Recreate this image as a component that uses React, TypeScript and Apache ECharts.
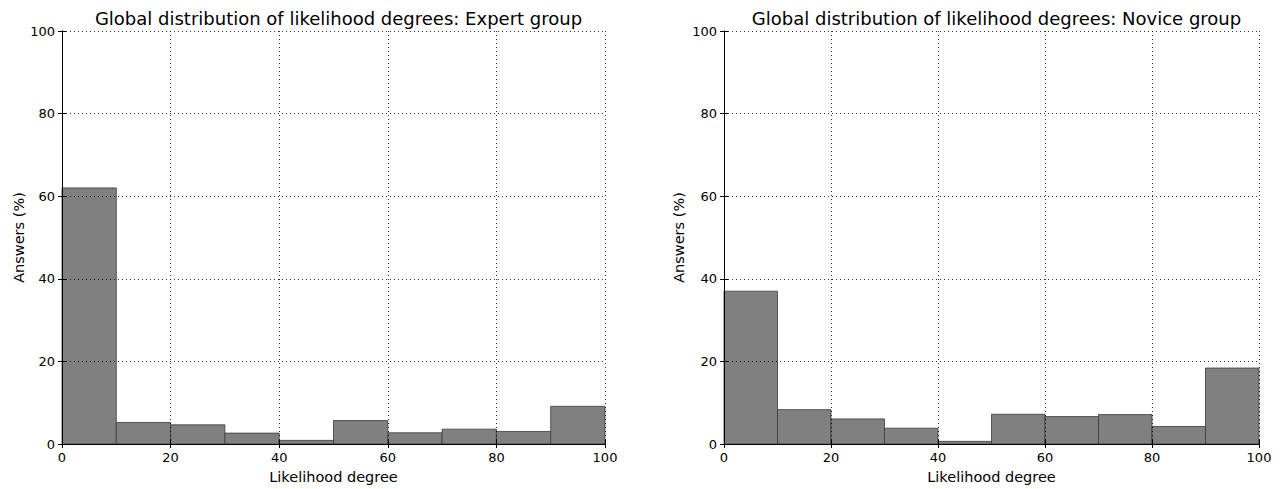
import React, { useEffect, useRef } from "react";
import * as echarts from "echarts";

const binEdges = [0, 10, 20, 30, 40, 50, 60, 70, 80, 90, 100];
const expertValues = [62, 5.2, 4.64, 2.64, 0.88, 5.68, 2.72, 3.6, 3.04, 9.12];
const noviceValues = [37, 8.32, 6.08, 3.84, 0.64, 7.2, 6.64, 7.12, 4.24, 18.4];
const titles = [
  "Global distribution of likelihood degrees: Expert group",
  "Global distribution of likelihood degrees: Novice group",
];
const xAxisName = "Likelihood degree";
const yAxisName = "Answers (%)";

const FONT = "DejaVu Sans";

export default function App() {
  const ref = useRef<HTMLDivElement>(null);
  useEffect(() => {
    document.body.style.margin = "0";
    const chart = echarts.init(ref.current!, null, { renderer: "svg" });
    const grids = [
      { left: 62, top: 31, width: 543, height: 419 },
      { left: 724, top: 31, width: 535, height: 419 },
    ];
    const seriesData = [expertValues, noviceValues];
    const xAxes: any[] = [];
    const yAxes: any[] = [];
    grids.forEach((g, i) => {
      xAxes.push({
        type: "value",
        gridIndex: i,
        min: 0,
        max: 100,
        interval: 20,
        position: "bottom",
        z: 5,
        name: xAxisName,
        nameLocation: "middle",
        nameGap: 25,
        nameTextStyle: { fontFamily: FONT, fontSize: 14.5, color: "#000" },
        axisLine: { show: true, lineStyle: { color: "#000", width: 1 } },
        axisTick: { show: true, inside: true, length: 4, lineStyle: { color: "#000" } },
        axisLabel: { fontFamily: FONT, fontSize: 13, color: "#000", margin: 7 },
        splitLine: { show: true, lineStyle: { color: "#000", type: [1, 3], width: 0.8 } },
      });
      xAxes.push({
        type: "value",
        gridIndex: i,
        min: 0,
        max: 100,
        interval: 20,
        position: "top",
        z: 5,
        axisLine: { show: true, lineStyle: { color: "#000", width: 1 } },
        axisTick: { show: true, inside: true, length: 4, lineStyle: { color: "#000" } },
        axisLabel: { show: false },
        splitLine: { show: false },
      });
      yAxes.push({
        type: "value",
        gridIndex: i,
        min: 0,
        max: 100,
        interval: 20,
        position: "left",
        z: 5,
        name: yAxisName,
        nameLocation: "middle",
        nameGap: i === 0 ? 36 : 38,
        nameTextStyle: { fontFamily: FONT, fontSize: 14.5, color: "#000" },
        axisLine: { show: true, lineStyle: { color: "#000", width: 1 } },
        axisTick: { show: true, inside: true, length: 4, lineStyle: { color: "#000" } },
        axisLabel: { fontFamily: FONT, fontSize: 13, color: "#000", margin: 7 },
        splitLine: { show: true, lineStyle: { color: "#000", type: [1, 3], width: 0.8 } },
      });
      yAxes.push({
        type: "value",
        gridIndex: i,
        min: 0,
        max: 100,
        interval: 20,
        position: "right",
        z: 5,
        axisLine: { show: true, lineStyle: { color: "#000", width: 1 } },
        axisTick: { show: true, inside: true, length: 4, lineStyle: { color: "#000" } },
        axisLabel: { show: false },
        splitLine: { show: false },
      });
    });
    const series = seriesData.map((vals, i) => ({
      type: "custom",
      xAxisIndex: i * 2,
      yAxisIndex: i * 2,
      z: 2,
      data: vals.map((v, k) => [binEdges[k], binEdges[k + 1], v]),
      encode: { x: [0, 1], y: 2 },
      renderItem: (params: any, api: any) => {
        const x0 = api.value(0);
        const x1 = api.value(1);
        const y = api.value(2);
        const p0 = api.coord([x0, y]);
        const p1 = api.coord([x1, 0]);
        return {
          type: "rect",
          shape: { x: p0[0], y: p0[1], width: p1[0] - p0[0], height: p1[1] - p0[1] },
          style: { fill: "#808080", stroke: "#3a3a3a", lineWidth: 0.8 },
        };
      },
    }));
    chart.setOption({
      animation: false,
      backgroundColor: "#fff",
      title: titles.map((t, i) => ({
        text: t,
        left: grids[i].left + grids[i].width / 2,
        textAlign: "center",
        top: 4,
        textStyle: { fontFamily: FONT, fontSize: 18, fontWeight: "normal", color: "#000" },
      })),
      grid: grids,
      xAxis: xAxes,
      yAxis: yAxes,
      series,
    });
    return () => chart.dispose();
  }, []);
  return <div ref={ref} style={{ width: 1280, height: 489 }} />;
}
